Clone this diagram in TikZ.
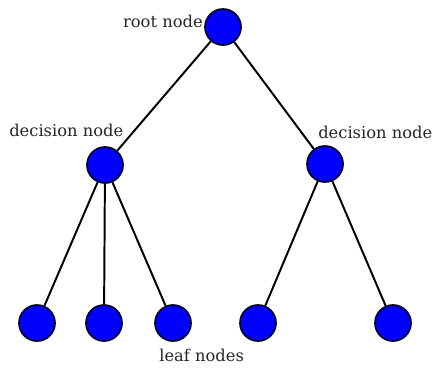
\documentclass[tikz,border=0pt]{standalone}
\usepackage{tikz}
\usepackage{fontspec}
\setmainfont{DejaVu Serif}
\usetikzlibrary{positioning}

\tikzset{
  treenode/.style={circle, draw=black!85!blue, line width=1.2pt, fill=blue, minimum size=0.9cm, inner sep=0pt},
  treelabel/.style={text=black!85, font=\fontsize{11.6}{14}\selectfont, inner sep=0pt}
}

\begin{document}
\begin{tikzpicture}[x=0.025cm, y=-0.025cm]
			\useasboundingbox (0,0) rectangle (435,370);
			\node (root) [treenode] at (223,27) {};
			\node (decl) [treenode] at (105,165) {};
			\node (decr) [treenode] at (325,164) {};
			\node (leafa) [treenode] at (37,323) {};
			\node (leafb) [treenode] at (104,323) {};
			\node (leafc) [treenode] at (173,323) {};
			\node (leafd) [treenode] at (258,323) {};
			\node (leafe) [treenode] at (393,323) {};

			\node (rootlabel) [treelabel, anchor=east] at (203,21) {root node};
			\node (decllabel) [treelabel, anchor=west] at (9,130) {decision node};
			\node (decrlabel) [treelabel, anchor=west] at (318,132) {decision node};
			\node (leaflabel) [treelabel, anchor=west] at (159,355) {leaf nodes};

			\path[line width=1.4pt] (root) edge (decl)
			(root) edge (decr)
			(decl) edge (leafa)
			(decl) edge (leafb)
			(decl) edge (leafc)
			(decr) edge (leafd)
			(decr) edge (leafe);
		\end{tikzpicture}
\end{document}
